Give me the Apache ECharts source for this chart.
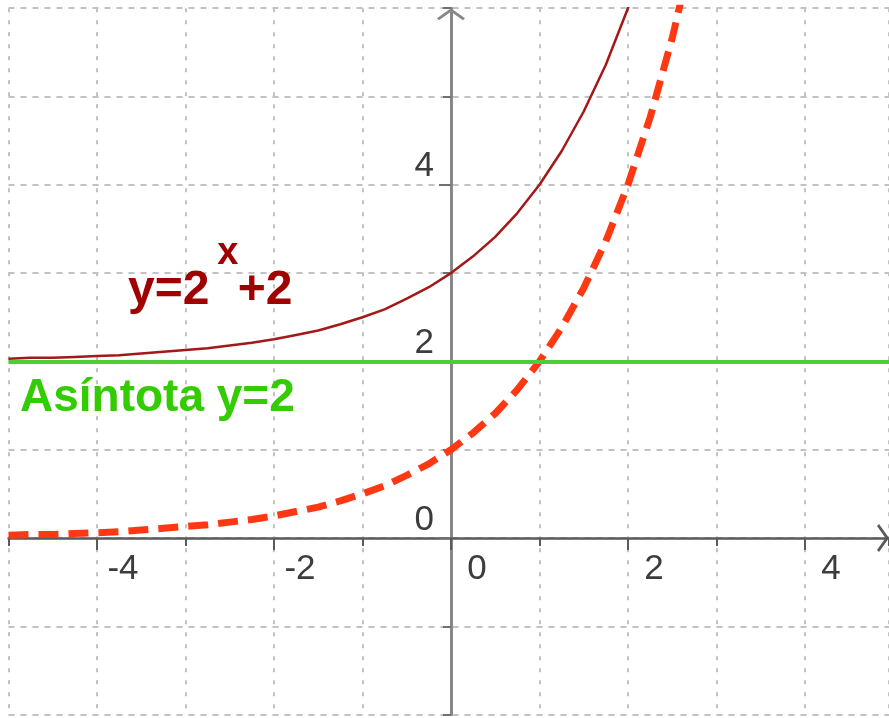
<!DOCTYPE html>
<html>
<head>
<meta charset="utf-8">
<script src="https://cdn.jsdelivr.net/npm/echarts@6/dist/echarts.min.js"></script>
<style>
  html, body { margin: 0; padding: 0; background: #ffffff; }
  #chart { width: 889px; height: 718px; }
</style>
</head>
<body>
<div id="chart"></div>
<script>
// Sample abscissas shared by both curves
const xs = [-5, -4.75, -4.5, -4.25, -4, -3.75, -3.5, -3.25, -3, -2.75, -2.5, -2.25,
            -2, -1.75, -1.5, -1.25, -1, -0.75, -0.5, -0.25, 0, 0.25, 0.5, 0.75,
            1, 1.25, 1.5, 1.75, 2, 2.25, 2.5, 2.75];

// y = 2^x + 2 (solid dark red)
const shiftedExp = [2.03, 2.04, 2.04, 2.05, 2.06, 2.07, 2.09, 2.11, 2.13, 2.15, 2.18, 2.21,
                    2.25, 2.30, 2.35, 2.42, 2.5, 2.59, 2.71, 2.84, 3, 3.19, 3.41, 3.68,
                    4, 4.38, 4.83, 5.36, 6, 6.76];

// y = 2^x (dashed orange-red)
const baseExp = [0.03, 0.04, 0.04, 0.05, 0.06, 0.07, 0.09, 0.11, 0.13, 0.15, 0.18, 0.21,
                 0.25, 0.30, 0.35, 0.42, 0.5, 0.59, 0.71, 0.84, 1, 1.19, 1.41, 1.68,
                 2, 2.38, 2.83, 3.36, 4, 4.76, 5.66, 6.73];

// Horizontal asymptote
const asymptoteY = 2;

// Text labels
const formulaParts = ['y=2', 'x', '+2'];
const asymptoteLabel = 'Asíntota y=2';

const zip = (a, b) => b.map((v, i) => [a[i], v]);

const chart = echarts.init(document.getElementById('chart'), null, { renderer: 'canvas' });

const chevron = 'path://M14,0 L28,10 L26,12 L14,3.5 L2,12 L0,10 Z';
const gridStyle = (dash) => ({ show: true, lineStyle: { color: '#c2c2c2', width: 2, type: dash } });
const tickFont = { color: '#3c3c3c', fontFamily: 'Liberation Sans', fontSize: 35 };
const hiddenLine = { show: true, onZero: false, lineStyle: { color: '#ffffff', width: 0.01, opacity: 0 } };

const option = {
  animation: false,
  backgroundColor: '#ffffff',
  grid: [
    // main plotting window: x in [-5, 4.95], y in [-2, 6]
    { left: 8.5, right: 0, top: 8.2, bottom: 3.4, containLabel: false, outerBoundsMode: 'none' },
    // x in [-4, 4], y in [0, 6]: its bottom edge is the y = 0 line (even ticks + labels of x)
    { left: 97, right: 84, top: 8.2, bottom: 180, containLabel: false, outerBoundsMode: 'none' },
    // x in [0, 4.95], y in [-2, 6]: its left edge is the x = 0 line (even ticks + labels of y)
    { left: 451, right: 0, top: 8.2, bottom: 3.4, containLabel: false, outerBoundsMode: 'none' }
  ],
  xAxis: [
    {
      type: 'value', gridIndex: 0, min: -5, max: 4.95, interval: 1,
      axisLine: {
        show: true, onZero: true,
        lineStyle: { color: '#5a5a5a', width: 2.5 },
        symbol: ['none', chevron], symbolSize: [28, 12], symbolOffset: [0, -6]
      },
      axisTick: { show: true, inside: false, length: 8, lineStyle: { color: '#5a5a5a', width: 2 } },
      axisLabel: { show: false },
      splitLine: gridStyle([4, 8])
    },
    {
      type: 'value', gridIndex: 1, position: 'bottom', min: -4, max: 4, interval: 2,
      axisLine: hiddenLine,
      axisTick: { show: true, inside: false, length: 12, lineStyle: { color: '#5a5a5a', width: 2 } },
      axisLabel: Object.assign({
        show: true, margin: 14, align: 'center', padding: [0, 0, 0, 52]
      }, tickFont),
      splitLine: { show: false }
    },
    {
      type: 'value', gridIndex: 2, show: false, min: 0, max: 4.95
    }
  ],
  yAxis: [
    {
      type: 'value', gridIndex: 0, min: -2, max: 6, interval: 1,
      axisLine: {
        show: true, onZero: true,
        lineStyle: { color: '#888888', width: 3 },
        symbol: ['none', chevron], symbolSize: [28, 12], symbolOffset: [0, -6]
      },
      axisTick: { show: true, inside: false, length: 8, lineStyle: { color: '#707070', width: 2 } },
      axisLabel: { show: false },
      splitLine: gridStyle([6, 6])
    },
    {
      type: 'value', gridIndex: 1, show: false, min: 0, max: 6
    },
    {
      type: 'value', gridIndex: 2, position: 'left', min: -2, max: 6, interval: 2,
      axisLine: hiddenLine,
      axisTick: { show: true, inside: false, length: 12, lineStyle: { color: '#707070', width: 2 } },
      axisLabel: Object.assign({
        show: true, margin: 17, align: 'right', verticalAlign: 'bottom', lineHeight: 36,
        showMinLabel: false, showMaxLabel: false
      }, tickFont),
      splitLine: { show: false }
    }
  ],
  series: [
    {
      name: 'asymptote', type: 'line', xAxisIndex: 0, yAxisIndex: 0, data: [],
      silent: true, z: 2,
      markLine: {
        silent: true, animation: false, symbol: ['none', 'none'],
        label: { show: false },
        lineStyle: { color: '#4ccf33', width: 4, type: 'solid' },
        emphasis: { disabled: true },
        data: [{ yAxis: asymptoteY }]
      }
    },
    {
      name: 'y=2^x+2', type: 'line', xAxisIndex: 0, yAxisIndex: 0,
      data: zip(xs, shiftedExp), showSymbol: false, silent: true, clip: true, z: 3,
      lineStyle: { color: '#a31818', width: 2.5 }
    },
    {
      name: 'y=2^x', type: 'line', xAxisIndex: 0, yAxisIndex: 0,
      data: zip(xs, baseExp), showSymbol: false, silent: true, clip: true, z: 3,
      lineStyle: { color: '#ff3814', width: 7, type: [20, 10], cap: 'butt' }
    },
    // empty series that keep the tick/label grids alive
    { name: 'xScale', type: 'line', xAxisIndex: 1, yAxisIndex: 1, data: [], silent: true },
    { name: 'yScale', type: 'line', xAxisIndex: 2, yAxisIndex: 2, data: [], silent: true }
  ]
};

chart.setOption(option);

// Place the formula and asymptote captions in data coordinates
const toPx = (pt) => chart.convertToPixel({ gridIndex: 0 }, pt);
const caption = (text, pt, font, color) => {
  const p = toPx(pt);
  return {
    type: 'text', x: p[0], y: p[1], silent: true, z: 10,
    style: {
      text: text, font: font, fill: color,
      align: 'left', verticalAlign: 'middle',
      textAlign: 'left', textVerticalAlign: 'middle'
    }
  };
};

const red = '#a00000';
const green = '#33cc00';
chart.setOption({
  graphic: [
    caption(formulaParts[0], [-3.65, 2.80], 'bold 48px "Liberation Sans"', red),
    caption(formulaParts[1], [-2.64, 3.22], 'bold 38px "Liberation Sans"', red),
    caption(formulaParts[2], [-2.41, 2.80], 'bold 48px "Liberation Sans"', red),
    caption(asymptoteLabel, [-4.87, 1.58], 'bold 46px "Liberation Sans"', green)
  ]
});
</script>
</body>
</html>
